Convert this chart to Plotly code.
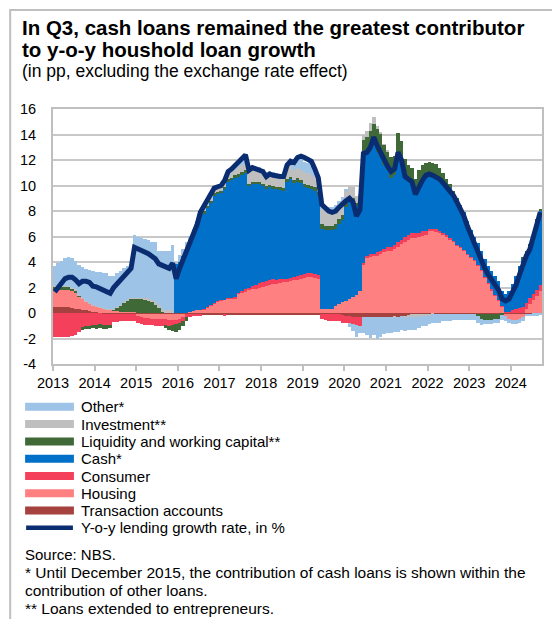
import plotly.graph_objects as go

# Contributions to y-o-y household loan growth (pp), monthly Jan 2013 - Sep 2024
YEARS = list(range(2013, 2025))
YEAR_LABELS = [str(y) for y in YEARS]
Y_TICKS = [-4, -2, 0, 2, 4, 6, 8, 10, 12, 14, 16]
Y_LABELS = [str(v) for v in Y_TICKS]

transaction = [
    0.45, 0.45, 0.45, 0.45, 0.45, 0.40, 0.35, 0.30, 0.25, 0.20, 0.15, 0.10,
    0.05, 0.00, -0.05, -0.05, -0.10, -0.10, -0.10, -0.10, -0.10, -0.10, -0.10, -0.10,
    -0.10, -0.10, -0.10, -0.10, -0.10, -0.10, -0.10, -0.10, -0.10, -0.10, -0.10, -0.10,
    -0.10, -0.10, -0.10, -0.10, -0.10, -0.10, -0.10, -0.10, -0.10, -0.10, -0.10, -0.10,
    -0.10, -0.15, -0.10, -0.10, -0.10, -0.10, -0.10, -0.10, -0.10, -0.15, -0.10, -0.10,
    -0.10, -0.10, -0.10, -0.15, -0.10, -0.10, -0.10, -0.10, -0.15, -0.10, -0.10, -0.10,
    -0.10, -0.10, -0.10, -0.10, -0.10, -0.10, -0.10, -0.10, -0.10, -0.10, -0.10, -0.15,
    -0.20, -0.20, -0.30, -0.35, -0.35, -0.35, -0.35, -0.35, -0.35, -0.35, -0.35, -0.35,
    -0.35, -0.35, -0.30, -0.30, -0.25, -0.20, -0.15, -0.10, -0.10, -0.10, -0.10, -0.10,
    -0.10, -0.05, -0.05, -0.05, -0.05, -0.05, -0.05, -0.05, -0.05, -0.05, -0.05, -0.05,
    -0.05, -0.05, -0.05, -0.05, -0.05, -0.05, -0.05, -0.05, -0.05, -0.05, -0.05, -0.05,
    -0.05, -0.05, -0.05, -0.05, -0.05, -0.05, -0.05, -0.05, -0.05,
]

housing = [
    1.35, 1.35, 1.35, 1.35, 1.35, 1.30, 1.20, 1.00, 0.85, 0.70, 0.60, 0.50,
    0.45, 0.40, 0.35, 0.30, 0.25, 0.20, 0.15, 0.10, 0.10, 0.10, 0.10, 0.10,
    -0.10, -0.20, -0.30, -0.30, -0.35, -0.40, -0.40, -0.40, -0.40, -0.45, -0.45, -0.45,
    -0.35, -0.20, 0.00, 0.10, 0.15, 0.20, 0.25, 0.30, 0.45, 0.60, 0.75, 0.90,
    1.00, 1.05, 1.10, 1.10, 1.15, 1.50, 1.60, 1.70, 1.80, 1.85, 1.90, 2.00,
    2.05, 2.10, 2.20, 2.30, 2.30, 2.35, 2.40, 2.45, 2.50, 2.55, 2.60, 2.70,
    2.75, 2.80, 2.80, 2.75, 2.70, 0.30, 0.30, 0.30, 0.35, 0.55, 0.70, 0.85,
    0.95, 1.10, 1.25, 1.45, 1.70, 3.80, 4.30, 4.40, 4.45, 4.50, 4.60, 4.75,
    4.85, 4.90, 5.00, 5.20, 5.40, 5.60, 5.75, 5.85, 5.90, 5.95, 6.05, 6.15,
    6.40, 6.45, 6.40, 6.30, 6.15, 6.00, 5.80, 5.60, 5.30, 5.10, 4.90, 4.60,
    4.35, 4.10, 3.70, 3.30, 2.80, 2.30, 1.80, 1.40, 1.00, 0.50, -0.20, -0.40,
    -0.50, -0.50, -0.45, -0.30, 0.30, 0.70, 1.00, 1.30, 1.70,
]

consumer = [
    -1.85, -1.85, -1.85, -1.85, -1.85, -1.80, -1.75, -1.50, -1.10, -1.00, -1.00, -0.95,
    -0.95, -0.90, -0.90, -0.90, -0.85, -0.60, -0.60, -0.55, -0.55, -0.50, -0.50, -0.50,
    -0.55, -0.55, -0.55, -0.55, -0.50, -0.50, -0.50, -0.50, -0.45, -0.45, -0.40, -0.35,
    -0.30, -0.30, -0.25, -0.20, -0.15, -0.10, -0.10, 0.05, 0.05, 0.05, 0.05, 0.05,
    0.05, -0.10, 0.05, 0.10, 0.10, 0.10, 0.10, 0.15, 0.20, 0.25, 0.30, 0.35,
    0.40, 0.40, 0.40, 0.35, 0.30, 0.30, 0.25, 0.25, 0.25, 0.25, 0.30, 0.30,
    0.30, 0.30, 0.30, 0.30, 0.30, -0.40, -0.45, -0.50, -0.50, -0.50, -0.55, -0.60,
    -0.60, -0.60, -0.55, -0.60, -0.65, 0.15, 0.20, 0.20, 0.20, 0.25, 0.25, 0.30,
    0.30, 0.30, 0.35, 0.35, 0.35, 0.40, 0.40, 0.40, 0.40, 0.35, 0.35, 0.30,
    0.20, 0.15, 0.15, 0.10, 0.10, 0.10, 0.05, 0.05, 0.05, 0.05, 0.05, 0.05,
    0.05, 0.05, 0.05, 0.05, 0.05, 0.05, 0.05, 0.05, 0.05, 0.05, 0.05, 0.10,
    0.20, 0.30, 0.40, 0.50, 0.50, 0.50, 0.50, 0.50, 0.50,
]

cash = [
    0.00, 0.00, 0.00, 0.00, 0.00, 0.00, 0.00, 0.00, 0.00, 0.00, 0.00, 0.00,
    0.00, 0.00, 0.00, 0.00, 0.00, 0.00, 0.00, 0.00, 0.00, 0.00, 0.00, 0.00,
    0.00, 0.00, 0.00, 0.00, 0.00, 0.00, 0.00, 0.00, 0.00, 0.00, 0.00, 3.90,
    4.00, 4.50, 5.10, 5.50, 5.95, 6.50, 7.25, 7.45, 7.70, 7.95, 8.40, 8.35,
    8.35, 8.65, 9.15, 9.20, 9.35, 9.10, 9.15, 9.15, 8.00, 8.05, 7.95, 7.75,
    7.50, 7.25, 7.25, 7.10, 7.10, 7.00, 6.95, 7.60, 7.75, 7.40, 7.40, 7.20,
    6.85, 6.70, 6.65, 6.55, 6.20, 6.30, 6.20, 6.20, 6.15, 6.05, 6.30, 6.45,
    7.35, 7.60, 7.35, 6.95, 6.90, 8.45, 8.00, 8.20, 8.55, 7.85, 7.35, 6.55,
    6.05, 5.40, 5.45, 6.75, 6.05, 4.60, 4.15, 3.85, 3.00, 3.60, 3.90, 4.15,
    4.15, 4.10, 4.10, 4.10, 4.05, 3.90, 3.95, 3.75, 3.55, 3.25, 2.95, 2.55,
    2.10, 1.85, 1.75, 1.55, 1.35, 1.35, 1.45, 1.45, 1.45, 1.15, 1.45, 1.60,
    2.10, 2.60, 3.30, 3.80, 4.00, 4.10, 4.70, 5.50, 5.80,
]

liquidity = [
    0.25, 0.25, 0.25, 0.25, 0.25, 0.25, 0.25, 0.10, -0.20, -0.25, -0.25, -0.25,
    -0.30, -0.30, -0.30, -0.30, -0.25, 0.10, 0.30, 0.50, 0.70, 0.85, 1.00, 1.05,
    1.10, 1.10, 1.05, 1.00, 0.90, 0.70, 0.40, 0.10, -0.20, -0.35, -0.50, -0.60,
    -0.55, -0.45, -0.30, 0.10, 0.20, 0.20, 0.20, 0.20, 0.20, 0.20, 0.20, 0.20,
    0.20, 0.20, 0.20, 0.20, 0.20, 0.20, 0.20, 0.20, 0.15, 0.15, 0.15, 0.20,
    0.20, 0.20, 0.20, 0.20, 0.20, 0.20, 0.20, 0.20, 0.20, 0.20, 0.25, 0.25,
    0.25, 0.25, 0.25, 0.30, 0.30, 0.35, 0.35, 0.35, 0.35, 0.35, 0.35, 0.40,
    0.40, 0.45, 0.45, 0.20, 0.30, 1.20, 1.30, 1.50, 1.60, 1.80, 1.90, 1.60,
    1.50, 1.60, 1.50, 1.80, 1.70, 1.50, 1.30, 1.30, 1.20, 1.30, 1.30, 1.20,
    1.10, 1.10, 1.00, 0.90, 0.70, 0.50, 0.30, 0.20, 0.10, 0.05, 0.00, 0.00,
    0.00, 0.00, -0.20, -0.40, -0.50, -0.50, -0.50, -0.45, -0.40, -0.10, 0.00, 0.00,
    0.00, 0.00, 0.00, 0.05, 0.05, 0.05, 0.05, 0.05, 0.10,
]

investment = [
    0.05, 0.05, 0.05, 0.05, 0.05, 0.05, 0.05, 0.05, 0.05, 0.05, 0.05, 0.05,
    0.05, 0.05, 0.05, 0.05, 0.05, 0.05, 0.05, 0.05, 0.05, 0.05, 0.05, 0.05,
    0.10, 0.10, 0.15, 0.15, 0.15, 0.15, 0.20, 0.20, 0.20, 0.20, 0.20, 0.05,
    0.10, 0.10, 0.15, 0.20, 0.20, 0.25, 0.30, 0.30, 0.35, 0.35, 0.40, 0.40,
    0.40, 0.45, 0.45, 0.50, 0.50, 0.55, 0.55, 0.60, 0.90, 1.00, 1.00, 1.05,
    1.05, 1.00, 1.00, 1.00, 1.00, 0.90, 0.90, 0.90, 0.85, 0.80, 0.80, 0.80,
    0.90, 0.90, 0.85, 0.80, 0.80, 1.20, 1.15, 1.15, 1.15, 1.15, 1.15, 1.10,
    0.90, 0.85, 0.80, 0.60, 0.40, 0.40, 0.50, 0.60, 0.60, 0.30, 0.10, 0.05,
    0.05, 0.00, -0.10, 0.00, 0.00, -0.20, -0.20, -0.20, -0.20, -0.20, -0.15, -0.10,
    -0.10, -0.05, 0.00, 0.00, 0.00, 0.00, 0.00, 0.00, 0.00, 0.00, 0.00, 0.00,
    0.00, 0.00, 0.00, 0.00, 0.00, 0.00, 0.00, 0.00, 0.00, 0.00, 0.00, 0.00,
    0.00, 0.00, 0.00, 0.00, 0.00, 0.00, 0.00, 0.00, 0.00,
]

other = [
    1.60, 1.80, 2.00, 2.20, 2.30, 2.35, 2.25, 2.35, 2.45, 2.50, 2.55, 2.65,
    2.70, 2.75, 2.75, 2.75, 2.60, 2.55, 2.60, 2.65, 2.65, 2.65, 2.65, 4.90,
    4.80, 4.65, 4.60, 4.60, 4.55, 4.70, 4.30, 4.60, 4.70, 4.70, 5.10, 0.05,
    0.45, 0.45, 0.35, 0.10, 0.10, 0.05, 0.05, 0.05, 0.05, 0.05, 0.05, 0.05,
    0.05, 0.10, 0.15, 0.15, 0.20, 0.25, 0.60, 0.60, 0.10, 0.10, 0.10, 0.05,
    0.05, 0.05, 0.05, 0.05, 0.05, 0.05, 0.05, 0.20, 0.30, 0.60, 0.70, 0.80,
    0.80, 0.80, 0.70, 0.50, 0.30, 0.40, 0.35, 0.35, 0.35, 0.35, 0.30, 0.30,
    0.10, -0.30, -0.60, -0.90, -0.60, -1.20, -1.40, -1.60, -1.40, -1.70, -1.50, -1.30,
    -1.20, -1.20, -1.10, -1.20, -1.10, -1.00, -1.00, -1.00, -1.00, -0.90, -0.80, -0.80,
    -0.70, -0.70, -0.70, -0.70, -0.60, -0.60, -0.60, -0.50, -0.50, -0.50, -0.50, -0.50,
    -0.50, -0.50, -0.50, -0.50, -0.30, -0.30, -0.30, -0.30, -0.30, -0.40, -0.40, -0.35,
    -0.30, -0.30, -0.25, -0.25, -0.20, -0.20, -0.15, -0.15, -0.10,
]

growth = [
    1.65, 2.00, 2.35, 2.70, 2.80, 2.80, 2.60, 2.30, 2.50, 2.50, 2.40, 2.10,
    2.05, 1.90, 1.80, 1.60, 1.55, 2.00, 2.30, 2.65, 2.90, 3.20, 3.50, 5.15,
    5.05, 4.95, 4.80, 4.65, 4.45, 4.25, 3.85, 3.70, 3.65, 3.50, 3.90, 2.70,
    3.50, 4.20, 4.90, 5.60, 6.20, 6.90, 7.90, 8.40, 8.80, 9.30, 9.80, 9.90,
    10.00, 10.40, 11.10, 11.30, 11.60, 11.80, 12.20, 12.40, 11.20, 11.40, 11.30, 11.20,
    11.10, 10.70, 10.90, 10.80, 10.70, 10.70, 10.70, 11.60, 11.90, 11.80, 12.20, 12.30,
    12.20, 12.10, 11.90, 11.30, 10.60, 8.50, 8.20, 8.00, 7.90, 8.00, 8.30, 8.60,
    8.80, 9.00, 8.70, 7.60, 8.10, 12.50, 12.60, 13.00, 13.80, 13.10, 12.50, 11.90,
    11.50, 11.10, 11.30, 12.60, 12.00, 10.70, 10.50, 10.30, 9.30, 9.90, 10.40, 10.80,
    10.90, 10.80, 10.70, 10.50, 10.20, 9.90, 9.50, 9.20, 8.70, 8.20, 7.60, 6.80,
    6.10, 5.60, 4.90, 4.10, 3.50, 3.00, 2.60, 2.20, 1.80, 1.10, 0.95, 1.10,
    1.60, 2.20, 3.00, 3.80, 4.50, 5.00, 6.00, 7.20, 7.90,
]

N_MONTHS = len(growth)
# each month occupies [year + m/12, year + (m+1)/12) on the year axis
month_start = [YEARS[0] + m / 12 for m in range(N_MONTHS)]
month_mid = [YEARS[0] + (m + 0.5) / 12 for m in range(N_MONTHS)]

FONT = "Liberation Sans, Arial, sans-serif"
COLORS = {
    "Other*": "#9DC3E6",
    "Investment**": "#BFBFBF",
    "Liquidity and working capital**": "#3F6A38",
    "Cash*": "#0070C8",
    "Consumer": "#F5405C",
    "Housing": "#FF8080",
    "Transaction accounts": "#A5413E",
}
LINE_COLOR = "#0A2D72"
GRID = "#C8C8C8"

# stacking order from the zero line outwards
stack = [
    ("Transaction accounts", transaction),
    ("Housing", housing),
    ("Consumer", consumer),
    ("Cash*", cash),
    ("Liquidity and working capital**", liquidity),
    ("Investment**", investment),
    ("Other*", other),
]

fig = go.Figure()
for name, vals in stack:
    fig.add_trace(go.Bar(
        x=month_start, y=vals, width=1 / 12, offset=0, name=name,
        marker=dict(color=COLORS[name], line=dict(width=0)),
        showlegend=False,
    ))

fig.add_trace(go.Scatter(
    x=month_mid, y=growth, mode="lines", name="Y-o-y lending growth rate, in %",
    line=dict(color=LINE_COLOR, width=5), showlegend=False,
))

# page geometry (pixels)
W, H = 552, 619
L, R, T, B = 53, 8, 109, 255
PW, PH = W - L - R, H - T - B


def px(x):
    return (x - L) / PW


def py(y):
    return (H - B - y) / PH


annotations = []
shapes = []


def text(x, y, s, size, bold=False):
    annotations.append(dict(
        x=px(x), y=py(y), xref="paper", yref="paper", xanchor="left", yanchor="middle",
        text=f"<b>{s}</b>" if bold else s, showarrow=False,
        font=dict(family=FONT, size=size, color="#000000"),
    ))


text(20, 27.5, "In Q3, cash loans remained the greatest contributor", 20.5, bold=True)
text(20, 49.5, "to y-o-y houshold loan growth", 20.5, bold=True)
text(20, 71, "(in pp, excluding the exchange rate effect)", 17.5)

legend_rows = [
    ("Other*", 406.7),
    ("Investment**", 424.0),
    ("Liquidity and working capital**", 441.5),
    ("Cash*", 458.8),
    ("Consumer", 476.0),
    ("Housing", 493.3),
    ("Transaction accounts", 510.5),
]
for name, cy in legend_rows:
    shapes.append(dict(
        type="rect", xref="paper", yref="paper",
        x0=px(25), x1=px(74), y0=py(cy + 4), y1=py(cy - 4),
        fillcolor=COLORS[name], line=dict(width=0),
    ))
    text(79, cy, name, 15)

shapes.append(dict(
    type="line", xref="paper", yref="paper",
    x0=px(26), x1=px(73), y0=py(527.7), y1=py(527.7),
    line=dict(color=LINE_COLOR, width=4.5),
))
text(79, 527.7, "Y-o-y lending growth rate, in %", 15)

text(23, 554, "Source: NBS.", 15)
text(23, 572, "* Until December 2015, the contribution of cash loans is shown within the", 15.5)
text(23, 590, "contribution of other loans.", 15.5)
text(23, 608, "** Loans extended to entrepreneurs.", 15.5)

# outer frame of the panel
shapes.append(dict(
    type="rect", xref="paper", yref="paper",
    x0=px(10), x1=px(570), y0=py(640), y1=py(10),
    line=dict(color="#BFBFBF", width=2), fillcolor="rgba(0,0,0,0)", layer="below",
))

fig.update_layout(
    width=W, height=H,
    margin=dict(l=L, r=R, t=T, b=B, pad=0),
    paper_bgcolor="white", plot_bgcolor="white",
    barmode="relative", bargap=0,
    showlegend=False,
    font=dict(family=FONT, size=14.5, color="black"),
    annotations=annotations, shapes=shapes,
    xaxis=dict(
        range=[YEARS[0], YEARS[0] + N_MONTHS / 12],
        tickvals=YEARS, ticktext=YEAR_LABELS,
        ticks="outside", ticklen=5, tickwidth=1.5, tickcolor="#BFBFBF",
        showgrid=False, zeroline=False,
        showline=True, linecolor="#BFBFBF", linewidth=2, mirror=True,
        tickfont=dict(family=FONT, size=14.5, color="black"),
        fixedrange=True,
    ),
    yaxis=dict(
        range=[-4, 16], tickvals=Y_TICKS, ticktext=Y_LABELS,
        ticks="", showgrid=True, gridcolor=GRID, gridwidth=1.5, zeroline=False,
        showline=True, linecolor="#BFBFBF", linewidth=2, mirror=True,
        tickfont=dict(family=FONT, size=14.5, color="black"),
        ticklabelstandoff=12,
        fixedrange=True,
    ),
)

fig.write_html("out.html")
